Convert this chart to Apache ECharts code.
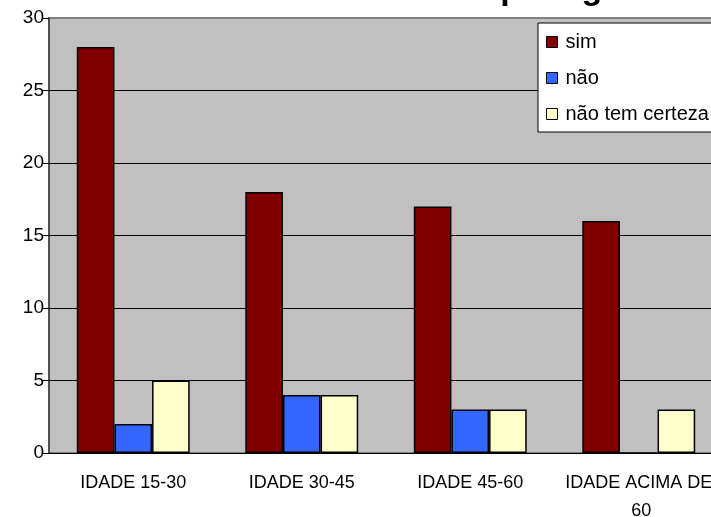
<!DOCTYPE html>
<html>
<head>
<meta charset="utf-8">
<script src="https://cdn.jsdelivr.net/npm/echarts@6/dist/echarts.min.js"></script>
<style>
  html, body { margin: 0; padding: 0; background: #ffffff; overflow: hidden; }
  #chart { width: 760px; height: 517px; }
</style>
</head>
<body>
<div id="chart"></div>
<script>
// Age groups and answers per group
const categories = ['IDADE 15-30', 'IDADE 30-45', 'IDADE 45-60', 'IDADE ACIMA DE 60'];
const simValues = [28, 18, 17, 16];
const naoValues = [2, 4, 3, 0];
const incertoValues = [5, 4, 3, 3];
const seriesNames = ['sim', 'não', 'não tem certeza'];
const yTicks = { min: 0, max: 30, step: 5 };

const FONT = '"Liberation Sans", Arial, sans-serif';
const barBorder = { borderColor: '#000000', borderWidth: 1.5 };

const chart = echarts.init(document.getElementById('chart'), null, { renderer: 'canvas' });

chart.setOption({
  animation: false,
  backgroundColor: '#ffffff',
  textStyle: { fontFamily: FONT },
  title: {
    text: 'abastece a cidade de Itapetinga',
    left: 106,
    top: -32,
    textStyle: { fontFamily: FONT, fontSize: 34, fontWeight: 'bold', color: '#000000' }
  },
  legend: {
    orient: 'vertical',
    left: 538,
    top: 23,
    data: seriesNames,
    backgroundColor: '#ffffff',
    borderColor: '#000000',
    borderWidth: 1,
    padding: [9, 30, 8, 8],
    itemGap: 16,
    itemWidth: 11,
    itemHeight: 11,
    icon: 'rect',
    itemStyle: { borderColor: '#000000', borderWidth: 1 },
    textStyle: { fontFamily: FONT, fontSize: 20, color: '#000000', padding: [0, 0, 0, 3], lineHeight: 20 }
  },
  grid: {
    left: 49,
    top: 18,
    width: 674,
    height: 435,
    outerBoundsMode: 'none',
    containLabel: false,
    show: true,
    backgroundColor: '#c0c0c0',
    borderColor: '#808080',
    borderWidth: 2
  },
  xAxis: {
    type: 'category',
    data: categories,
    axisLine: { lineStyle: { color: '#000000', width: 1 } },
    axisTick: { length: 6, lineStyle: { color: '#000000' } },
    axisLabel: {
      interval: 0,
      fontFamily: FONT, fontSize: 18, color: '#000000', margin: 16,
      width: 150, overflow: 'break', lineHeight: 28
    }
  },
  yAxis: {
    type: 'value',
    min: yTicks.min,
    max: yTicks.max,
    interval: yTicks.step,
    axisLine: { show: true, lineStyle: { color: '#404040', width: 1.5 } },
    axisTick: { show: true, length: 6, lineStyle: { color: '#000000' } },
    axisLabel: { fontFamily: FONT, fontSize: 19, color: '#000000', margin: 5 },
    splitLine: {
      lineStyle: {
        color: ['#000000', '#000000', '#000000', '#000000', '#000000', '#000000', '#808080'],
        width: 1
      }
    }
  },
  series: [
    {
      name: seriesNames[0], type: 'bar', data: simValues,
      barGap: '0%', barCategoryGap: '33%',
      itemStyle: Object.assign({ color: '#800000' }, barBorder)
    },
    {
      name: seriesNames[1], type: 'bar', data: naoValues,
      itemStyle: Object.assign({ color: '#3366ff' }, barBorder)
    },
    {
      name: seriesNames[2], type: 'bar', data: incertoValues,
      itemStyle: Object.assign({ color: '#ffffcc' }, barBorder)
    }
  ]
});
</script>
</body>
</html>
